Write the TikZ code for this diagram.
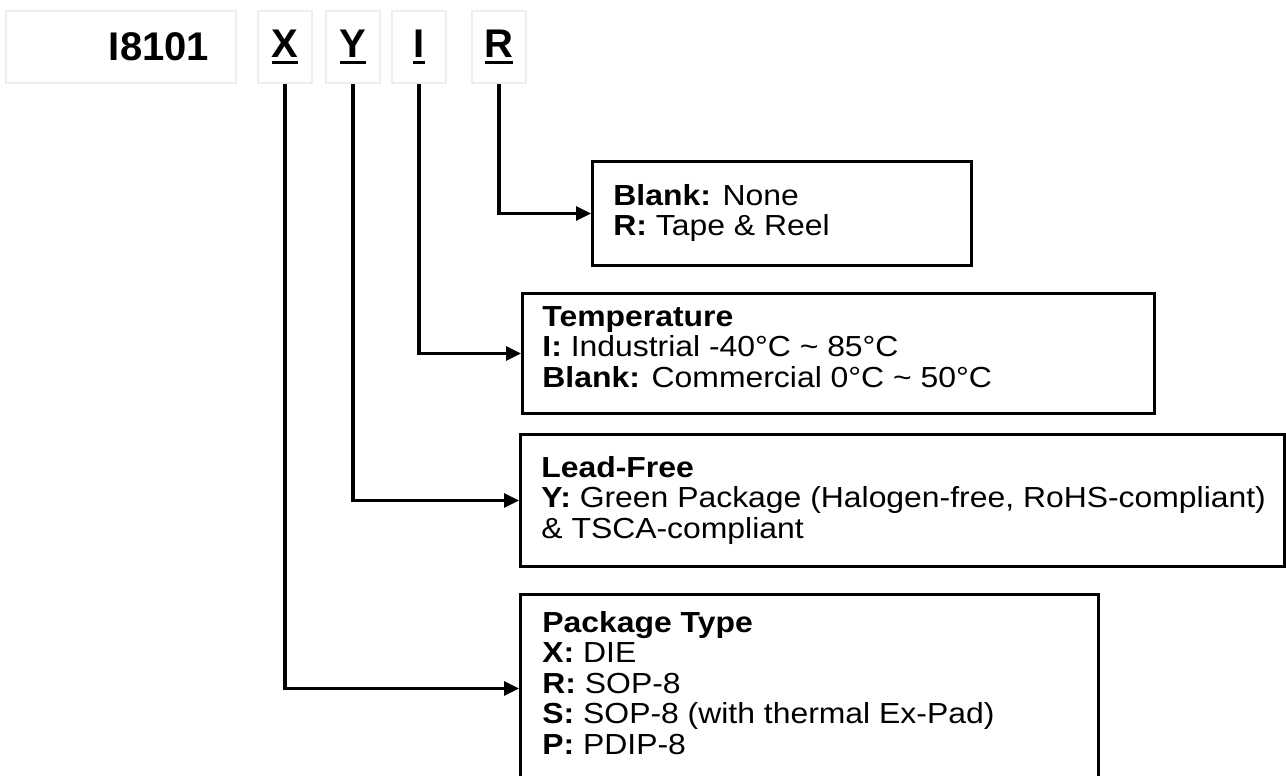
\documentclass[tikz,border=0pt]{standalone}
\usepackage{fontspec}
\setmainfont{Liberation Sans}
\newfontfamily\boxfont{Liberation Sans}[FakeStretch=1.1]
\usetikzlibrary{arrows.meta,positioning}
\newcommand{\ulin}[1]{\setbox0\hbox{#1}\rlap{\rule[-3.5pt]{\wd0}{1.75pt}}\box0}
\definecolor{cinzaTag}{RGB}{238,238,238}
\tikzset{
  tag/.style={rectangle, draw=cinzaTag, line width=1pt, minimum height=36pt,
              inner sep=0pt, font=\fontsize{20}{24}\selectfont\bfseries},
  optbox/.style={rectangle, draw=black, line width=1.5pt, anchor=north west,
                 inner sep=0pt},
  opttext/.style={anchor=north west, inner sep=0pt, align=left,
                  font=\boxfont\fontsize{14.5}{15.25}\selectfont},
  conn/.style={-{Triangle[length=7.5pt,width=7pt]}, line width=1.6pt},
}
\begin{document}
\begin{tikzpicture}[x=0.5pt,y=-0.5pt]
  \useasboundingbox (0,0) rectangle (1286,776);
  \clip (0,0) rectangle (1286,776);
  % part number and option letters
  \node[tag, minimum width=115pt, text width=88pt, align=right] (base) at (121,47) {I8101};
  \node[tag, minimum width=27pt] (cx) at (285,47) {\ulin{X}};
  \node[tag, minimum width=27pt] (cy) at (353,47) {\ulin{Y}};
  \node[tag, minimum width=27pt] (ci) at (419,47) {\ulin{I}};
  \node[tag, minimum width=27pt] (cr) at (499,47) {\ulin{R}};
  % option boxes
  \node[optbox, minimum width=189.5pt, minimum height=52pt] (reel) at (591,160) {};
  \node[optbox, minimum width=316pt, minimum height=60pt] (temp) at (521,292) {};
  \node[optbox, minimum width=382pt, minimum height=66pt] (lead) at (519,433) {};
  \node[optbox, minimum width=289pt, minimum height=94pt] (pkg) at (519,593) {};
  \node[opttext] (reeltxt) at (613,184) {\textbf{Blank:} None\\\textbf{R:} Tape \& Reel};
  \node[opttext] (temptxt) at (542,306) {\textbf{Temperature}\\\textbf{I:} Industrial -40°C \textasciitilde{} 85°C\\\textbf{Blank:} Commercial 0°C \textasciitilde{} 50°C};
  \node[opttext] (leadtxt) at (541,456) {\textbf{Lead-Free}\\\textbf{Y:} Green Package (Halogen-free, RoHS-compliant)\\\& TSCA-compliant};
  \node[opttext] (pkgtxt) at (542,611) {\textbf{Package Type}\\\textbf{X:} DIE\\\textbf{R:} SOP-8\\\textbf{S:} SOP-8 (with thermal Ex-Pad)\\\textbf{P:} PDIP-8};
  % connectors
  \draw[conn] (cr.south) |- (reel.west);
  \draw[conn] (ci.south) |- (temp.west);
  \draw[conn] (cy.south) |- (lead.west);
  \draw[conn] (cx.south) |- (pkg.west);
\end{tikzpicture}
\end{document}
